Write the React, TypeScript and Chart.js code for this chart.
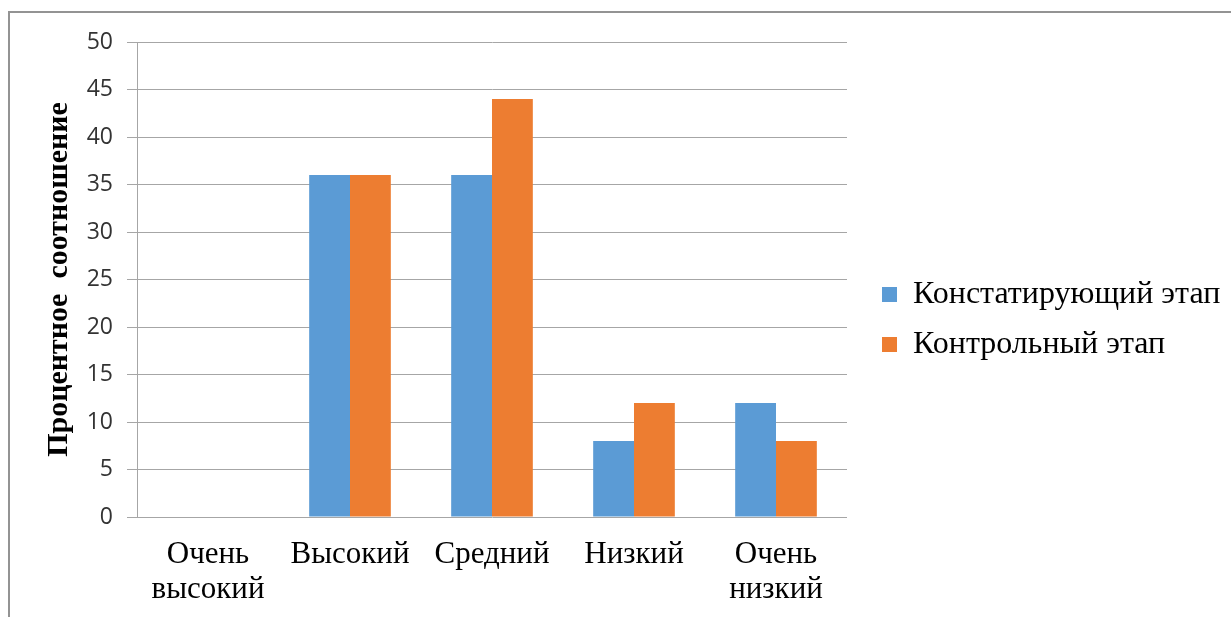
import React, { useEffect, useRef } from "react";
import { Chart, registerables } from "chart.js";

Chart.register(...registerables);

const categories: (string | string[])[] = [
  ["Очень", "высокий"],
  "Высокий",
  "Средний",
  "Низкий",
  ["Очень", "низкий"],
];
const seriesNames = ["Констатирующий этап", "Контрольный этап"];
const constatingValues = [0, 36, 36, 8, 12];
const controlValues = [0, 36, 44, 12, 8];
const yMin = 0;
const yMax = 50;
const yStep = 5;
const yTitle = "Процентное  соотношение";

const SERIF = "'Liberation Serif', 'Times New Roman', serif";
const LEGEND_SIZE = 32;

const framePlugin = {
  id: "frame",
  beforeDraw(chart: any) {
    const ctx = chart.ctx;
    ctx.save();
    ctx.fillStyle = "#ffffff";
    ctx.fillRect(0, 0, chart.width, chart.height);
    ctx.strokeStyle = "#939393";
    ctx.lineWidth = 2;
    ctx.strokeRect(9, 12, chart.width + 50, chart.height + 50);
    ctx.restore();
  },
};

function measureLegendText(): number {
  const c = document.createElement("canvas");
  const ctx = c.getContext("2d");
  if (!ctx) return 305;
  ctx.font = `${LEGEND_SIZE}px ${SERIF}`;
  return Math.max(...seriesNames.map((s) => ctx.measureText(s).width));
}

export default function App() {
  const ref = useRef<HTMLCanvasElement | null>(null);
  useEffect(() => {
    if (!ref.current) return;
    const textW = measureLegendText();
    const legendLeft = 864;
    const legendWidth = 18 + 15 + LEGEND_SIZE / 2 + textW + 10;
    const padRight = Math.max(0, 1231 - legendLeft - legendWidth);
    const chart = new Chart(ref.current, {
      type: "bar",
      data: {
        labels: categories,
        datasets: [
          {
            label: seriesNames[0],
            data: constatingValues,
            backgroundColor: "#5b9bd5",
            borderWidth: 0,
          },
          {
            label: seriesNames[1],
            data: controlValues,
            backgroundColor: "#ed7d31",
            borderWidth: 0,
          },
        ],
      },
      options: {
        responsive: false,
        animation: false,
        layout: { padding: { left: 10, top: 22, bottom: 0, right: padRight } },
        datasets: {
          bar: { categoryPercentage: 0.575, barPercentage: 1 },
        },
        plugins: {
          tooltip: { enabled: false },
          legend: {
            position: "right",
            align: "center",
            maxWidth: 600,
            labels: {
              boxWidth: 15,
              boxHeight: 15,
              padding: 18,
              color: "#000000",
              font: { family: SERIF, size: LEGEND_SIZE },
            },
          },
        },
        scales: {
          x: {
            grid: { display: false, drawTicks: false, tickLength: 0 },
            border: { display: false },
            ticks: {
              padding: 20,
              color: "#000000",
              maxRotation: 0,
              autoSkip: false,
              font: { family: SERIF, size: 31, lineHeight: "35px" },
            },
            afterFit(scale: any) {
              scale.height = 100;
            },
          },
          xTop: {
            type: "category",
            position: "top",
            display: true,
            grid: { display: false, drawTicks: false },
            border: { display: false },
            ticks: { display: false },
            afterFit(scale: any) {
              scale.height = 20;
            },
          },
          y: {
            min: yMin,
            max: yMax,
            position: "left",
            grid: {
              color: "#a6a6a6",
              lineWidth: 1,
              drawTicks: true,
              tickLength: 10,
            },
            border: { display: true, color: "#a6a6a6", width: 1 },
            ticks: {
              stepSize: yStep,
              padding: 14,
              color: "#333333",
              font: { family: "'Open Sans', sans-serif", size: 23 },
            },
            title: {
              display: true,
              text: yTitle,
              color: "#000000",
              padding: { top: 31, bottom: 0 },
              font: { family: SERIF, size: 30, weight: "bold", lineHeight: 1.2 },
            },
            afterFit(scale: any) {
              scale.width = 127;
            },
          },
          yRight: {
            type: "linear",
            position: "right",
            display: true,
            grid: { display: false, drawTicks: false },
            border: { display: false },
            ticks: { display: false },
            afterFit(scale: any) {
              scale.width = 17;
            },
          },
        },
      },
      plugins: [framePlugin],
    });
    return () => chart.destroy();
  }, []);
  return (
    <canvas
      ref={ref}
      width={1231}
      height={617}
      style={{ position: "absolute", left: 0, top: 0, display: "block" }}
    />
  );
}
